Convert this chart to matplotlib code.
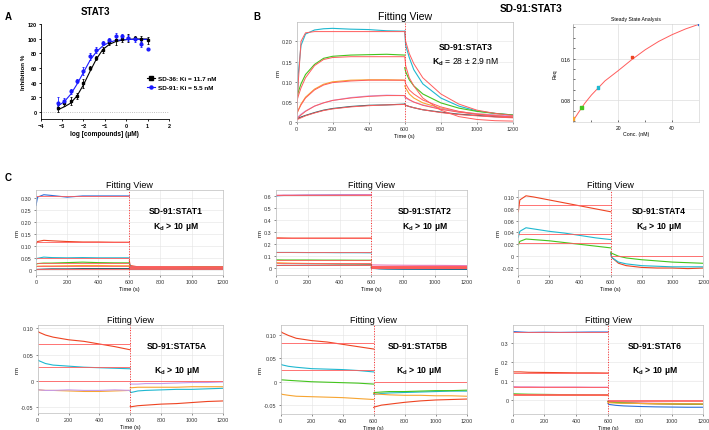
import matplotlib
matplotlib.use("Agg")
import matplotlib.pyplot as plt

plt.rcParams['font.family'] = ['Liberation Sans', 'DejaVu Sans']
plt.rcParams['mathtext.fontset'] = 'custom'
plt.rcParams['mathtext.rm'] = 'Liberation Sans'
plt.rcParams['mathtext.bf'] = 'Liberation Sans:bold'

# ---------------- panel A: inhibition curves ----------------
logc = [-3.2, -2.9, -2.6, -2.3, -2.0, -1.7, -1.4, -1.1, -0.8, -0.5, -0.2, 0.1, 0.4, 0.7, 1.0]
sd36_mean = [5, 12, 15, 22, 39, 60, 74, 85, 95, 97.5, 100, 101, 100.5, 100, 97.5]
sd36_err = [5, 4, 5, 4, 6, 3, 3, 4, 4, 6, 5, 5, 3, 4, 5]
sd91_mean = [12, 14.7, 28, 42, 56, 76, 85, 94, 97.5, 103, 104, 101, 99, 93, 86]
sd91_err = [8, 4, 4, 3, 5, 5, 4, 3, 4, 5, 3, 4, 3, 4, 0]
sd36_fit = [3, 7, 12, 22, 37, 55, 72, 85, 92, 96, 98, 99, 99.5, 99.5, 99.5]
sd91_fit = [8, 14, 24, 38, 54, 70, 82, 90, 95, 97.5, 98.5, 99, 99, 99, 99]
legend_labels = ['SD-36: Ki = 11.7 nM', 'SD-91: Ki = 5.5 nM']

# ---------------- panel B: SD-91:STAT3 sensorgram ----------------
# association points (first 11) then dissociation points (last 10)
tB = [0, 10, 25, 50, 100, 150, 200, 300, 400, 500, 600,
      600, 605, 625, 650, 700, 800, 900, 1000, 1100, 1200]
b_50 = [0.01, 0.12, 0.19, 0.218, 0.228, 0.231, 0.232, 0.230, 0.229, 0.226, 0.225,
        0.225, 0.19, 0.16, 0.13, 0.095, 0.06, 0.04, 0.028, 0.022, 0.018]
b_25 = [0.055, 0.075, 0.095, 0.118, 0.143, 0.158, 0.163, 0.166, 0.167, 0.168, 0.166,
        0.135, 0.125, 0.105, 0.09, 0.07, 0.048, 0.035, 0.027, 0.022, 0.018]
b_12 = [0.02, 0.03, 0.045, 0.062, 0.082, 0.094, 0.1, 0.104, 0.105, 0.105, 0.104,
        0.09, 0.085, 0.07, 0.06, 0.048, 0.035, 0.026, 0.021, 0.018, 0.016]
b_6 = [0.01, 0.014, 0.02, 0.028, 0.04, 0.048, 0.054, 0.061, 0.065, 0.067, 0.066,
       0.062, 0.06, 0.055, 0.05, 0.043, 0.033, 0.026, 0.021, 0.018, 0.016]
b_3 = [0.008, 0.01, 0.013, 0.017, 0.024, 0.03, 0.034, 0.039, 0.042, 0.043, 0.045,
       0.045, 0.042, 0.039, 0.036, 0.031, 0.025, 0.02, 0.017, 0.014, 0.012]
bfit_50 = [0, 0.1, 0.2, 0.221, 0.224, 0.224, 0.224, 0.224, 0.224, 0.224, 0.224,
           0.224, 0.2, 0.17, 0.145, 0.11, 0.07, 0.045, 0.03, 0.022, 0.017]
bfit_25 = [0.05, 0.065, 0.085, 0.11, 0.14, 0.155, 0.16, 0.162, 0.162, 0.162, 0.162,
           0.162, 0.14, 0.11, 0.09, 0.06, 0.03, 0.014, 0.007, 0.004, 0.003]
bfit_12 = [0.02, 0.03, 0.043, 0.06, 0.08, 0.092, 0.098, 0.102, 0.104, 0.104, 0.104,
           0.104, 0.095, 0.08, 0.07, 0.055, 0.038, 0.027, 0.02, 0.016, 0.013]
bfit_6 = [0.008, 0.012, 0.018, 0.027, 0.04, 0.048, 0.054, 0.06, 0.064, 0.066, 0.066,
          0.066, 0.062, 0.056, 0.05, 0.042, 0.032, 0.025, 0.02, 0.016, 0.013]
bfit_3 = [0.005, 0.008, 0.011, 0.016, 0.023, 0.029, 0.033, 0.038, 0.041, 0.043, 0.044,
          0.044, 0.042, 0.039, 0.036, 0.031, 0.024, 0.019, 0.016, 0.013, 0.011]

# steady state
ss_conc = [3.125, 6.25, 12.5, 25, 50]
ss_req = [0.045, 0.066, 0.104, 0.163, 0.226]
ssfit_conc = [3.1, 5, 7.5, 10, 15, 20, 25, 30, 35, 40, 45, 50]
ssfit_req = [0.040, 0.055, 0.074, 0.090, 0.117, 0.137, 0.158, 0.177, 0.193, 0.206, 0.217, 0.226]

# ---------------- panel C: selectivity sensorgrams ----------------
# association points (first 9) then dissociation points (last 9)
tC = [0, 10, 50, 100, 200, 300, 400, 500, 600,
      600, 605, 650, 700, 800, 900, 1000, 1100, 1200]

stat1_blue = [0.27, 0.305, 0.315, 0.312, 0.305, 0.31, 0.31, 0.31, 0.31,
              0.03, 0.015, 0.012, 0.012, 0.011, 0.01, 0.01, 0.01, 0.01]
stat1_red = [0.11, 0.12, 0.125, 0.123, 0.12, 0.118, 0.118, 0.117, 0.117,
             0.04, 0.02, 0.015, 0.014, 0.014, 0.013, 0.013, 0.013, 0.012]
stat1_cyan = [0.045, 0.05, 0.055, 0.053, 0.052, 0.053, 0.052, 0.052, 0.052,
              0.03, 0.015, 0.013, 0.012, 0.012, 0.012, 0.011, 0.011, 0.011]
stat1_green = [0.025, 0.028, 0.03, 0.03, 0.032, 0.034, 0.032, 0.031, 0.031,
               0.02, 0.012, 0.01, 0.01, 0.012, 0.013, 0.015, 0.015, 0.015]
stat1_orange = [0.015, 0.017, 0.018, 0.018, 0.019, 0.02, 0.02, 0.019, 0.019,
                0.012, 0.01, 0.009, 0.009, 0.009, 0.009, 0.009, 0.009, 0.009]
stat1_teal = [0.003, 0.004, 0.005, 0.006, 0.006, 0.007, 0.007, 0.007, 0.007,
              0.006, 0.005, 0.005, 0.005, 0.005, 0.005, 0.005, 0.005, 0.005]
stat1_fit_on = [0.31, 0.117, 0.052, 0.032, 0.02, 0.007]
stat1_fit_off = [0.018, 0.015, 0.013, 0.012, 0.01, 0.007]

stat2_blue = [0.6, 0.605, 0.607, 0.607, 0.609, 0.61, 0.611, 0.612, 0.613,
              0.005, -0.002, -0.006, -0.008, -0.01, -0.011, -0.012, -0.012, -0.012]
stat2_pink = [0.608, 0.609, 0.61, 0.61, 0.611, 0.611, 0.612, 0.613, 0.614,
              0.03, 0.026, 0.025, 0.024, 0.023, 0.022, 0.022, 0.021, 0.02]
stat2_red = [0.25, 0.252, 0.251, 0.25, 0.25, 0.25, 0.25, 0.25, 0.25,
             0.02, 0.01, 0.005, 0.003, 0.002, 0.0, 0.0, 0.0, 0.0]
stat2_cyan = [0.13, 0.13, 0.13, 0.13, 0.129, 0.129, 0.128, 0.128, 0.127,
              0.01, 0.0, -0.005, -0.006, -0.006, -0.006, -0.006, -0.006, -0.006]
stat2_green = [0.068, 0.068, 0.067, 0.067, 0.067, 0.066, 0.066, 0.065, 0.065,
               0.01, 0.005, 0.002, 0.0, 0.0, 0.0, 0.0, -0.001, -0.001]
stat2_orange = [0.045, 0.044, 0.042, 0.04, 0.038, 0.036, 0.035, 0.034, 0.033,
                0.005, 0.0, -0.002, -0.003, -0.003, -0.003, -0.004, -0.004, -0.004]
stat2_teal = [0.02, 0.021, 0.022, 0.022, 0.023, 0.023, 0.024, 0.024, 0.025,
              0.0, -0.004, -0.006, -0.007, -0.008, -0.008, -0.008, -0.009, -0.009]
stat2_fit_on = [0.61, 0.25, 0.13, 0.065, 0.04, 0.025]
stat2_fit_off = [0.02, 0.015, 0.01, 0.005, 0.0, 0.0]

stat4_red = [0.075, 0.095, 0.102, 0.1, 0.095, 0.09, 0.085, 0.08, 0.075,
             0.005, -0.002, -0.012, -0.016, -0.019, -0.02, -0.02, -0.021, -0.02]
stat4_cyan = [0.032, 0.042, 0.048, 0.046, 0.042, 0.039, 0.035, 0.031, 0.028,
              0.005, -0.002, -0.01, -0.013, -0.016, -0.017, -0.018, -0.018, -0.018]
stat4_green = [0.019, 0.025, 0.029, 0.028, 0.026, 0.023, 0.02, 0.017, 0.014,
               0.007, 0.005, 0.0, -0.003, -0.006, -0.008, -0.01, -0.011, -0.012]
stat4_fit_on = [0.087, 0.037, 0.022]
stat4_fit_off = [0.0]

stat5a_red = [0.094, 0.092, 0.087, 0.083, 0.078, 0.075, 0.07, 0.065, 0.059,
              -0.048, -0.049, -0.047, -0.046, -0.044, -0.043, -0.041, -0.039, -0.038]
stat5a_cyan = [0.04, 0.038, 0.033, 0.03, 0.028, 0.026, 0.025, 0.024, 0.023,
               -0.02, -0.022, -0.019, -0.018, -0.017, -0.016, -0.016, -0.015, -0.014]
stat5a_orange = [-0.016, -0.017, -0.018, -0.018, -0.019, -0.02, -0.02, -0.019, -0.018,
                 -0.013, -0.013, -0.012, -0.012, -0.012, -0.012, -0.011, -0.011, -0.011]
stat5a_purple = [-0.017, -0.017, -0.018, -0.018, -0.017, -0.018, -0.018, -0.017, -0.018,
                 -0.005, -0.006, -0.006, -0.005, -0.005, -0.004, -0.003, -0.003, -0.002]
stat5a_fit_on = [0.07, 0.027, 0.0]
stat5a_fit_off = [0.0]

stat5b_red = [0.108, 0.105, 0.099, 0.093, 0.088, 0.085, 0.08, 0.075, 0.07,
              -0.055, -0.054, -0.05, -0.048, -0.044, -0.041, -0.039, -0.038, -0.037]
stat5b_cyan = [0.038, 0.036, 0.033, 0.031, 0.028, 0.027, 0.026, 0.024, 0.021,
               -0.027, -0.027, -0.025, -0.024, -0.023, -0.022, -0.021, -0.02, -0.02]
stat5b_green = [0.004, 0.004, 0.003, 0.002, 0.0, -0.001, -0.002, -0.003, -0.005,
                -0.024, -0.023, -0.022, -0.021, -0.021, -0.02, -0.019, -0.019, -0.018]
stat5b_orange = [-0.025, -0.027, -0.029, -0.031, -0.032, -0.033, -0.034, -0.036, -0.038,
                 -0.025, -0.026, -0.027, -0.028, -0.029, -0.029, -0.03, -0.03, -0.031]
stat5b_fit_on = [0.082, 0.026]
stat5b_fit_off = [0.0]

stat6_blue = [0.358, 0.36, 0.358, 0.356, 0.357, 0.356, 0.357, 0.358, 0.358,
              -0.02, -0.025, -0.03, -0.033, -0.036, -0.038, -0.039, -0.04, -0.04]
stat6_red = [0.148, 0.147, 0.147, 0.145, 0.144, 0.143, 0.142, 0.142, 0.141,
             -0.01, -0.012, -0.015, -0.017, -0.02, -0.022, -0.023, -0.024, -0.025]
stat6_pink = [0.07, 0.069, 0.068, 0.068, 0.067, 0.067, 0.067, 0.066, 0.066,
              -0.005, -0.008, -0.012, -0.014, -0.017, -0.019, -0.02, -0.021, -0.022]
stat6_green = [0.032, 0.031, 0.03, 0.029, 0.028, 0.027, 0.026, 0.025, 0.025,
               -0.01, -0.012, -0.015, -0.017, -0.02, -0.021, -0.022, -0.023, -0.024]
stat6_orange = [0.026, 0.026, 0.025, 0.025, 0.024, 0.024, 0.023, 0.023, 0.022,
                -0.015, -0.016, -0.018, -0.019, -0.02, -0.021, -0.022, -0.022, -0.023]
stat6_fit_on = [0.357, 0.143, 0.067, 0.028, 0.024]
stat6_fit_off = [0.0, -0.005]

BLUE = '#2f6fd8'
RED = '#ee4422'
CYAN = '#1fb8d0'
GREEN = '#44c41e'
ORANGE = '#f7a532'
PURPLE = '#c79be8'
TEAL = '#1f5f66'
PINK = '#e779b5'
FIT = '#ff5c5c'

W, H = 709, 431
fig = plt.figure(figsize=(W / 100, H / 100), dpi=100)


def add_ax(l, t, r, b):
    # axes placed by pixel box (left, top, right, bottom)
    return fig.add_axes([l / W, 1 - b / H, (r - l) / W, (b - t) / H])


def trace(ax, t, vals, color, n_on, lw=0.8):
    # association and dissociation drawn as two separate pieces
    ax.plot(t[:n_on], vals[:n_on], color=color, lw=lw)
    ax.plot(t[n_on:], vals[n_on:], color=color, lw=lw)


def fitting_view(ax, ylim, yticks, ylabels, title_size=6.5):
    ax.set_xlim(0, 1200)
    ax.set_ylim(*ylim)
    ax.set_xticks([0, 200, 400, 600, 800, 1000, 1200])
    ax.set_yticks(yticks)
    ax.set_yticklabels(ylabels)
    ax.tick_params(labelsize=3.9, length=1.5, width=0.4, pad=1.5, colors='#333333')
    ax.grid(True, color='#e4e4e4', lw=0.4)
    ax.set_axisbelow(True)
    for s in ax.spines.values():
        s.set_color('#bdbdbd')
        s.set_linewidth(0.5)
    ax.set_title('Fitting View', fontsize=title_size, pad=2)
    ax.set_xlabel('Time (s)', fontsize=4.1, labelpad=1)
    ax.set_ylabel('nm', fontsize=4.1, labelpad=1)
    ax.axvline(600, color='#ff2a2a', lw=0.7, ls=':', zorder=5)


def label_box(ax, name, kd, x=0.76, y1=0.76, y2=0.58, size=6.2):
    ax.text(x, y1, name, transform=ax.transAxes, ha='center', va='center',
            fontsize=size, fontweight='bold')
    ax.text(x, y2, kd, transform=ax.transAxes, ha='center', va='center',
            fontsize=size, fontweight='bold')


# ---------------- A ----------------
axA = add_ax(40.7, 25, 169, 120.3)
axA.axhline(0, color='#aaaaaa', lw=0.6, ls=':')
axA.plot(logc, sd36_fit, color='black', lw=0.8)
axA.plot(logc, sd91_fit, color='#1a1aff', lw=0.8)
axA.errorbar(logc, sd36_mean, yerr=sd36_err, fmt='s', color='black', ms=2,
             elinewidth=0.6, capsize=1, capthick=0.6)
axA.errorbar(logc, sd91_mean, yerr=sd91_err, fmt='o', color='#1a1aff', ms=2,
             elinewidth=0.6, capsize=1, capthick=0.6)
axA.set_xlim(-4, 2)
axA.set_ylim(-10, 120)
axA.set_xticks(range(-4, 3))
axA.set_yticks(range(0, 121, 20))
axA.spines['top'].set_visible(False)
axA.spines['right'].set_visible(False)
for s in ('left', 'bottom'):
    axA.spines[s].set_linewidth(0.6)
axA.tick_params(labelsize=4, length=1.5, width=0.6, pad=1)
for t in axA.get_xticklabels() + axA.get_yticklabels():
    t.set_fontweight('bold')
axA.set_xlabel('log [compounds] (\u03bcM)', fontsize=4.7, fontweight='bold', labelpad=1.5)
axA.set_ylabel('Inhibition %', fontsize=4.5, fontweight='bold', labelpad=1.5)
hA = [plt.Line2D([], [], color='black', marker='s', ms=2.2, lw=0.8),
      plt.Line2D([], [], color='#1a1aff', marker='o', ms=2.2, lw=0.8)]
legA = fig.legend(hA, legend_labels, loc='center left', frameon=False,
                  bbox_to_anchor=(141 / W, 1 - 84 / H), fontsize=4.6,
                  handlelength=1.3, handletextpad=0.4, labelspacing=0.5)
for t in legA.get_texts():
    t.set_fontweight('bold')
fig.text(95 / W, 1 - 12 / H, 'STAT3', fontsize=7, fontweight='bold', ha='center', va='center')

# ---------------- B ----------------
axB = add_ax(296.5, 23, 513, 123.3)
fitting_view(axB, (0, 0.2477), [0, 0.05, 0.10, 0.15, 0.20],
             ['0', '0.05', '0.10', '0.15', '0.20'], title_size=7.6)
for vals, c in zip([b_50, b_25, b_12, b_6, b_3], [CYAN, GREEN, ORANGE, PURPLE, TEAL]):
    trace(axB, tB, vals, c, 11)
for vals in [bfit_50, bfit_25, bfit_12, bfit_6, bfit_3]:
    axB.plot(tB, vals, color=FIT, lw=0.7)
axB.text(0.78, 0.76, 'SD-91:STAT3', transform=axB.transAxes, ha='center', va='center',
         fontsize=6.2, fontweight='bold')
axB.text(0.78, 0.61, r'$\mathbf{K_d}$ = 28 ' + '\u00b1 2.9 nM',
         transform=axB.transAxes, ha='center', va='center', fontsize=6.2)

axS = add_ax(573, 25, 699, 123)
axS.plot(ssfit_conc, ssfit_req, color=FIT, lw=0.7)
axS.scatter(ss_conc, ss_req, c=[ORANGE, GREEN, CYAN, RED, BLUE], marker='s', s=3, zorder=3)
axS.set_xlim(3.125, 50)
axS.set_ylim(0.038, 0.2265)
axS.set_xticks([20, 40])
axS.set_xticks([10, 30], minor=True)
axS.set_yticks([0.08, 0.16])
axS.set_yticklabels(['0.08', '0.16'])
axS.set_yticks([0.04, 0.06, 0.10, 0.12, 0.14, 0.18, 0.20, 0.22], minor=True)
axS.grid(True, which='major', color='#dddddd', lw=0.5)
axS.tick_params(which='both', direction='in', labelsize=3.6, length=1.5, width=0.4, pad=2)
for s in axS.spines.values():
    s.set_color('#cccccc')
    s.set_linewidth(0.4)
axS.spines['left'].set_color('#777777')
axS.set_title('Steady State Analysis', fontsize=3.7, pad=3)
axS.set_xlabel('Conc. (nM)', fontsize=3.8, labelpad=1)
axS.set_ylabel('Req', fontsize=3.8, labelpad=2)

fig.text(531 / W, 1 - 9 / H, 'SD-91:STAT3', fontsize=7.3, fontweight='bold', ha='center', va='center')

# ---------------- C ----------------
kd_text = r'$\mathbf{K_d}$ > 10 ' + '\u00b5M'

ax1 = add_ax(36, 190.7, 222.7, 276)
fitting_view(ax1, (-0.0196, 0.336), [0, 0.05, 0.10, 0.15, 0.20, 0.25, 0.30],
             ['0', '0.05', '0.10', '0.15', '0.20', '0.25', '0.30'])
for vals, c in zip([stat1_blue, stat1_red, stat1_cyan, stat1_green, stat1_orange, stat1_teal],
                   [BLUE, RED, CYAN, GREEN, ORANGE, TEAL]):
    trace(ax1, tC, vals, c, 9)
ax1.hlines(stat1_fit_on, 0, 600, color=FIT, lw=0.6)
ax1.hlines(stat1_fit_off, 600, 1200, color=FIT, lw=0.6)
label_box(ax1, 'SD-91:STAT1', kd_text, x=0.75, y1=0.754, y2=0.574)

ax2 = add_ax(276, 190.7, 466.7, 276)
fitting_view(ax2, (-0.0586, 0.655), [0, 0.1, 0.2, 0.3, 0.4, 0.5, 0.6],
             ['0', '0.1', '0.2', '0.3', '0.4', '0.5', '0.6'])
for vals, c in zip([stat2_blue, stat2_pink, stat2_red, stat2_cyan, stat2_green, stat2_orange, stat2_teal],
                   [BLUE, PINK, RED, CYAN, GREEN, ORANGE, TEAL]):
    trace(ax2, tC, vals, c, 9)
ax2.hlines(stat2_fit_on, 0, 600, color=FIT, lw=0.6)
ax2.hlines(stat2_fit_off, 600, 1200, color=FIT, lw=0.6)
label_box(ax2, 'SD-91:STAT2', kd_text, x=0.78, y1=0.754, y2=0.574)

ax3 = add_ax(518.3, 190.7, 703.3, 276)
fitting_view(ax3, (-0.0318, 0.1123), [-0.02, 0, 0.02, 0.04, 0.06, 0.08, 0.10],
             ['-0.02', '0', '0.02', '0.04', '0.06', '0.08', '0.10'])
for vals, c in zip([stat4_red, stat4_cyan, stat4_green], [RED, CYAN, GREEN]):
    trace(ax3, tC, vals, c, 9)
ax3.hlines(stat4_fit_on, 0, 600, color=FIT, lw=0.6)
ax3.hlines(stat4_fit_off, 600, 1200, color=FIT, lw=0.6)
label_box(ax3, 'SD-91:STAT4', kd_text, x=0.76, y1=0.754, y2=0.574)

ax4 = add_ax(37.7, 326, 222.7, 414.3)
fitting_view(ax4, (-0.0614, 0.106), [-0.05, 0, 0.05, 0.10], ['-0.05', '0', '0.05', '0.10'])
for vals, c in zip([stat5a_red, stat5a_cyan, stat5a_orange, stat5a_purple],
                   [RED, CYAN, ORANGE, PURPLE]):
    trace(ax4, tC, vals, c, 9)
ax4.hlines(stat5a_fit_on, 0, 600, color=FIT, lw=0.6)
ax4.hlines(stat5a_fit_off, 600, 1200, color=FIT, lw=0.6)
label_box(ax4, 'SD-91:STAT5A', kd_text, x=0.75, y1=0.766, y2=0.49)

ax5 = add_ax(280.7, 326, 466.7, 415)
fitting_view(ax5, (-0.069, 0.1214), [-0.05, 0, 0.05, 0.10], ['-0.05', '0', '0.05', '0.10'])
for vals, c in zip([stat5b_red, stat5b_cyan, stat5b_green, stat5b_orange],
                   [RED, CYAN, GREEN, ORANGE]):
    trace(ax5, tC, vals, c, 9)
ax5.hlines(stat5b_fit_on, 0, 600, color=FIT, lw=0.6)
ax5.hlines(stat5b_fit_off, 600, 1200, color=FIT, lw=0.6)
label_box(ax5, 'SD-91:STAT5B', kd_text, x=0.74, y1=0.766, y2=0.49)

ax6 = add_ax(512.7, 326, 703.3, 415)
fitting_view(ax6, (-0.0757, 0.395), [0, 0.1, 0.2, 0.3], ['0', '0.1', '0.2', '0.3'])
for vals, c in zip([stat6_blue, stat6_red, stat6_pink, stat6_green, stat6_orange],
                   [BLUE, RED, PINK, GREEN, ORANGE]):
    trace(ax6, tC, vals, c, 9)
ax6.hlines(stat6_fit_on, 0, 600, color=FIT, lw=0.6)
ax6.hlines(stat6_fit_off, 600, 1200, color=FIT, lw=0.6)
label_box(ax6, 'SD-91:STAT6', kd_text, x=0.747, y1=0.766, y2=0.49)

# panel letters
fig.text(5 / W, 1 - 17 / H, 'A', fontsize=7, fontweight='bold', va='center')
fig.text(253 / W, 1 - 17 / H, 'B', fontsize=7, fontweight='bold', va='center')
fig.text(5 / W, 1 - 178 / H, 'C', fontsize=7, fontweight='bold', va='center')

fig.savefig('out.png', dpi=100)
